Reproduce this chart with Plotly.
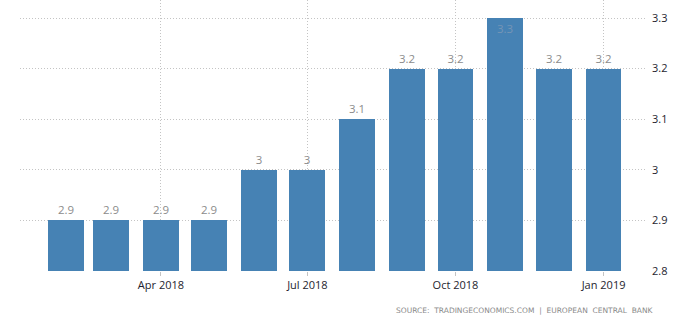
import plotly.graph_objects as go

# Monthly values, Feb 2018 - Jan 2019
months = ["2018-02-01", "2018-03-01", "2018-04-01", "2018-05-01", "2018-06-01",
          "2018-07-01", "2018-08-01", "2018-09-01", "2018-10-01", "2018-11-01",
          "2018-12-01", "2019-01-01"]
values = [2.9, 2.9, 2.9, 2.9, 3.0, 3.0, 3.1, 3.2, 3.2, 3.3, 3.2, 3.2]

y_ticks = [2.8, 2.9, 3.0, 3.1, 3.2, 3.3]
y_tick_labels = ["2.8", "2.9", "3", "3.1", "3.2", "3.3"]
x_ticks = ["2018-04-01", "2018-07-01", "2018-10-01", "2019-01-01"]
x_tick_labels = ["Apr 2018", "Jul 2018", "Oct 2018", "Jan 2019"]

y_top = 3.3356
day_ms = 24 * 3600 * 1000
labels = [f"{v:g}" for v in values]
positions = ["inside" if v >= 3.3 else "outside" for v in values]

grid = dict(showgrid=True, gridcolor="#c4c4c4", griddash="1px,2px", gridwidth=1)

fig = go.Figure(go.Bar(
    x=months,
    y=values,
    width=[22.3 * day_ms] * len(values),
    marker=dict(color="#4682B4", line=dict(width=0)),
    text=labels,
    textposition=positions,
    insidetextanchor="end",
    constraintext="none",
    textangle=0,
    outsidetextfont=dict(family="Open Sans", size=11.5, color="#8c8c8c"),
    insidetextfont=dict(family="Open Sans", size=11.5, color="#7595b6"),
    cliponaxis=False,
    hoverinfo="skip",
))

fig.update_layout(
    width=700, height=326,
    margin=dict(l=20, r=53, t=0, b=55),
    paper_bgcolor="white", plot_bgcolor="white",
    showlegend=False,
    bargap=0,
    xaxis=dict(
        type="date",
        range=["2018-01-03 10:00", "2019-01-28"],
        tickvals=x_ticks, ticktext=x_tick_labels,
        ticks="outside", ticklen=4, tickcolor="#c4c4c4",
        tickfont=dict(family="Open Sans", size=11, color="#1e1e2e"),
        showline=False, zeroline=False,
        **grid,
    ),
    yaxis=dict(
        side="right",
        range=[2.8, y_top],
        tickvals=y_ticks, ticktext=y_tick_labels,
        ticks="", ticklabelstandoff=4,
        tickfont=dict(family="Open Sans", size=11, color="#1e1e2e"),
        showline=False, zeroline=False,
        **grid,
    ),
    annotations=[dict(
        text="SOURCE:  TRADINGECONOMICS.COM  |  EUROPEAN  CENTRAL  BANK",
        xref="paper", yref="paper", x=1.0145, y=-0.144,
        xanchor="right", yanchor="middle", showarrow=False,
        font=dict(family="DejaVu Sans", size=7.5, color="#8a8a8a"),
    )],
)

fig.write_html("out.html")
